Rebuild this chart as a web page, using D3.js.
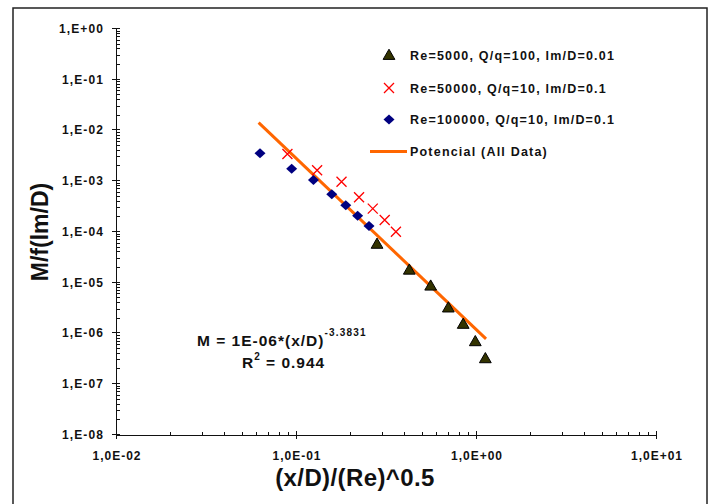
<!DOCTYPE html>
<html>
<head>
  <meta charset="utf-8">
  <script src="https://d3js.org/d3.v7.min.js"></script>
  <style>
    body { margin: 0; background: #fff; }
    text { font-family: "Liberation Sans", Arial, sans-serif; font-weight: bold; fill: #111; }
    .axis line, .axis path { stroke: #111; stroke-width: 1px; shape-rendering: crispEdges; }
  </style>
</head>
<body>
<svg id="chart" width="713" height="504"></svg>
<script>
// values
const re5000X = [0.282, 0.426, 0.560, 0.702, 0.849, 0.991, 1.127];
const re5000Y = [5.4e-5, 1.67e-5, 8.1e-6, 3.0e-6, 1.43e-6, 6.5e-7, 3.0e-7];

const re50000X = [0.0896, 0.131, 0.179, 0.224, 0.267, 0.311, 0.359];
const re50000Y = [3.33e-3, 1.59e-3, 9.5e-4, 4.7e-4, 2.8e-4, 1.67e-4, 9.8e-5];

const re100000X = [0.0631, 0.0946, 0.125, 0.158, 0.189, 0.220, 0.2545];
const re100000Y = [3.44e-3, 1.71e-3, 1.03e-3, 5.36e-4, 3.25e-4, 2.03e-4, 1.27e-4];

// power trend line end points
const trendX = [0.062, 1.137];
const trendY = [0.0138, 7.6e-7];

const yTicks = [1, 1e-1, 1e-2, 1e-3, 1e-4, 1e-5, 1e-6, 1e-7, 1e-8];
const yTickLabels = ["1,E+00", "1,E-01", "1,E-02", "1,E-03", "1,E-04", "1,E-05", "1,E-06", "1,E-07", "1,E-08"];
const xTicks = [0.01, 0.1, 1, 10];
const xTickLabels = ["1,0E-02", "1,0E-01", "1,0E+00", "1,0E+01"];

const legendLabels = ["Re=5000, Q/q=100, lm/D=0.01", "Re=50000, Q/q=10, lm/D=0.1",
                      "Re=100000, Q/q=10, lm/D=0.1", "Potencial (All Data)"];

const svg = d3.select("#chart");

// outer frame (bottom edge is off the picture)
svg.append("rect").attr("x", 13).attr("y", 8).attr("width", 694).attr("height", 520)
   .attr("fill", "none").attr("stroke", "#222").attr("stroke-width", 1.5);

const x = d3.scaleLog().domain([0.01, 10]).range([116, 656]);
const y = d3.scaleLog().domain([1e-8, 1]).range([434.3, 28.3]);

// minor ticks 2..9 in each decade
const minorX = [], minorY = [];
for (let e = -2; e < 1; e++) for (let k = 2; k < 10; k++) minorX.push(k * Math.pow(10, e));
for (let e = -8; e < 0; e++) for (let k = 2; k < 10; k++) minorY.push(k * Math.pow(10, e));

// y axis
const yAxis = svg.append("g").attr("class", "axis");
yAxis.append("line").attr("x1", 116).attr("x2", 116).attr("y1", y(1)).attr("y2", y(1e-8));
yAxis.selectAll("line.minor").data(minorY).join("line").attr("class", "minor")
     .attr("x1", 116).attr("x2", 119.5).attr("y1", d => Math.round(y(d)) + 0.5).attr("y2", d => Math.round(y(d)) + 0.5);
yAxis.selectAll("line.major").data(yTicks).join("line").attr("class", "major")
     .attr("x1", 112).attr("x2", 120).attr("y1", d => y(d)).attr("y2", d => y(d));
yAxis.selectAll("text").data(yTicks).join("text")
     .attr("x", 104).attr("y", d => y(d) + 4.5).attr("text-anchor", "end")
     .attr("font-size", 12).attr("letter-spacing", 1.1).text((d, i) => yTickLabels[i]);

// x axis
const xAxis = svg.append("g").attr("class", "axis");
xAxis.append("line").attr("x1", x(0.01)).attr("x2", x(10)).attr("y1", 435).attr("y2", 435);
xAxis.selectAll("line.minor").data(minorX).join("line").attr("class", "minor")
     .attr("x1", d => Math.round(x(d)) + 0.5).attr("x2", d => Math.round(x(d)) + 0.5).attr("y1", 431.5).attr("y2", 435);
xAxis.selectAll("line.major").data(xTicks).join("line").attr("class", "major")
     .attr("x1", d => x(d)).attr("x2", d => x(d)).attr("y1", 431).attr("y2", 439);
xAxis.selectAll("text").data(xTicks).join("text")
     .attr("x", d => x(d) + 1).attr("y", 459.5).attr("text-anchor", "middle")
     .attr("font-size", 12).attr("letter-spacing", 1).text((d, i) => xTickLabels[i]);

// axis titles
svg.append("text").attr("transform", "translate(48,232) rotate(-90)")
   .attr("text-anchor", "middle").attr("font-size", 23).text("M/f(lm/D)");
svg.append("text").attr("x", 355).attr("y", 486)
   .attr("text-anchor", "middle").attr("font-size", 24).attr("letter-spacing", 0.4).text("(x/D)/(Re)^0.5");

// trend line
const plot = svg.append("g");
plot.append("line")
    .attr("x1", x(trendX[0])).attr("y1", y(trendY[0]))
    .attr("x2", x(trendX[1])).attr("y2", y(trendY[1]))
    .attr("stroke", "#ff6600").attr("stroke-width", 3);

const tri = d3.symbol().type(d3.symbolTriangle).size(60);
const dia = "M0,-5L5.5,0L0,5L-5.5,0Z";

function drawCross(g, cx, cy) {
  g.append("path").attr("d", `M${cx-5},${cy-5}L${cx+5},${cy+5}M${cx-5},${cy+5}L${cx+5},${cy-5}`)
   .attr("stroke", "#ff0000").attr("stroke-width", 1.3).attr("fill", "none");
}

plot.selectAll("path.dia").data(d3.zip(re100000X, re100000Y)).join("path").attr("class", "dia")
    .attr("d", dia).attr("transform", d => `translate(${x(d[0])},${y(d[1])})`)
    .attr("fill", "#000080");

d3.zip(re50000X, re50000Y).forEach(d => drawCross(plot, x(d[0]), y(d[1])));

plot.selectAll("path.tri").data(d3.zip(re5000X, re5000Y)).join("path").attr("class", "tri")
    .attr("d", tri).attr("transform", d => `translate(${x(d[0])},${y(d[1])})`)
    .attr("fill", "#333300").attr("stroke", "#000").attr("stroke-width", 1);

// legend
const legY = [55, 88, 119.5, 151.5];
const leg = svg.append("g");
leg.append("path").attr("d", tri).attr("transform", `translate(389,${legY[0] + 1})`)
   .attr("fill", "#333300").attr("stroke", "#000");
drawCross(leg, 389, legY[1]);
leg.append("path").attr("d", dia).attr("transform", `translate(389,${legY[2]})`).attr("fill", "#000080");
leg.append("line").attr("x1", 370).attr("x2", 407).attr("y1", legY[3]).attr("y2", legY[3])
   .attr("stroke", "#ff6600").attr("stroke-width", 3);
leg.selectAll("text").data(legendLabels).join("text")
   .attr("x", 410).attr("y", (d, i) => legY[i] + 4.5).attr("font-size", 12.5)
   .attr("letter-spacing", 1.2).text(d => d);

// equation
const eq = svg.append("text").attr("x", 197).attr("y", 346).attr("font-size", 15.5).attr("letter-spacing", 1);
eq.append("tspan").text("M = 1E-06*(x/D)");
eq.append("tspan").attr("dy", -10).attr("font-size", 10).attr("letter-spacing", 1.2).text("-3.3831");
const r2 = svg.append("text").attr("x", 242).attr("y", 368).attr("font-size", 15.5).attr("letter-spacing", 1);
r2.append("tspan").text("R");
r2.append("tspan").attr("dy", -8).attr("font-size", 10).text("2");
r2.append("tspan").attr("dy", 8).text(" = 0.944");
</script>
</body>
</html>
